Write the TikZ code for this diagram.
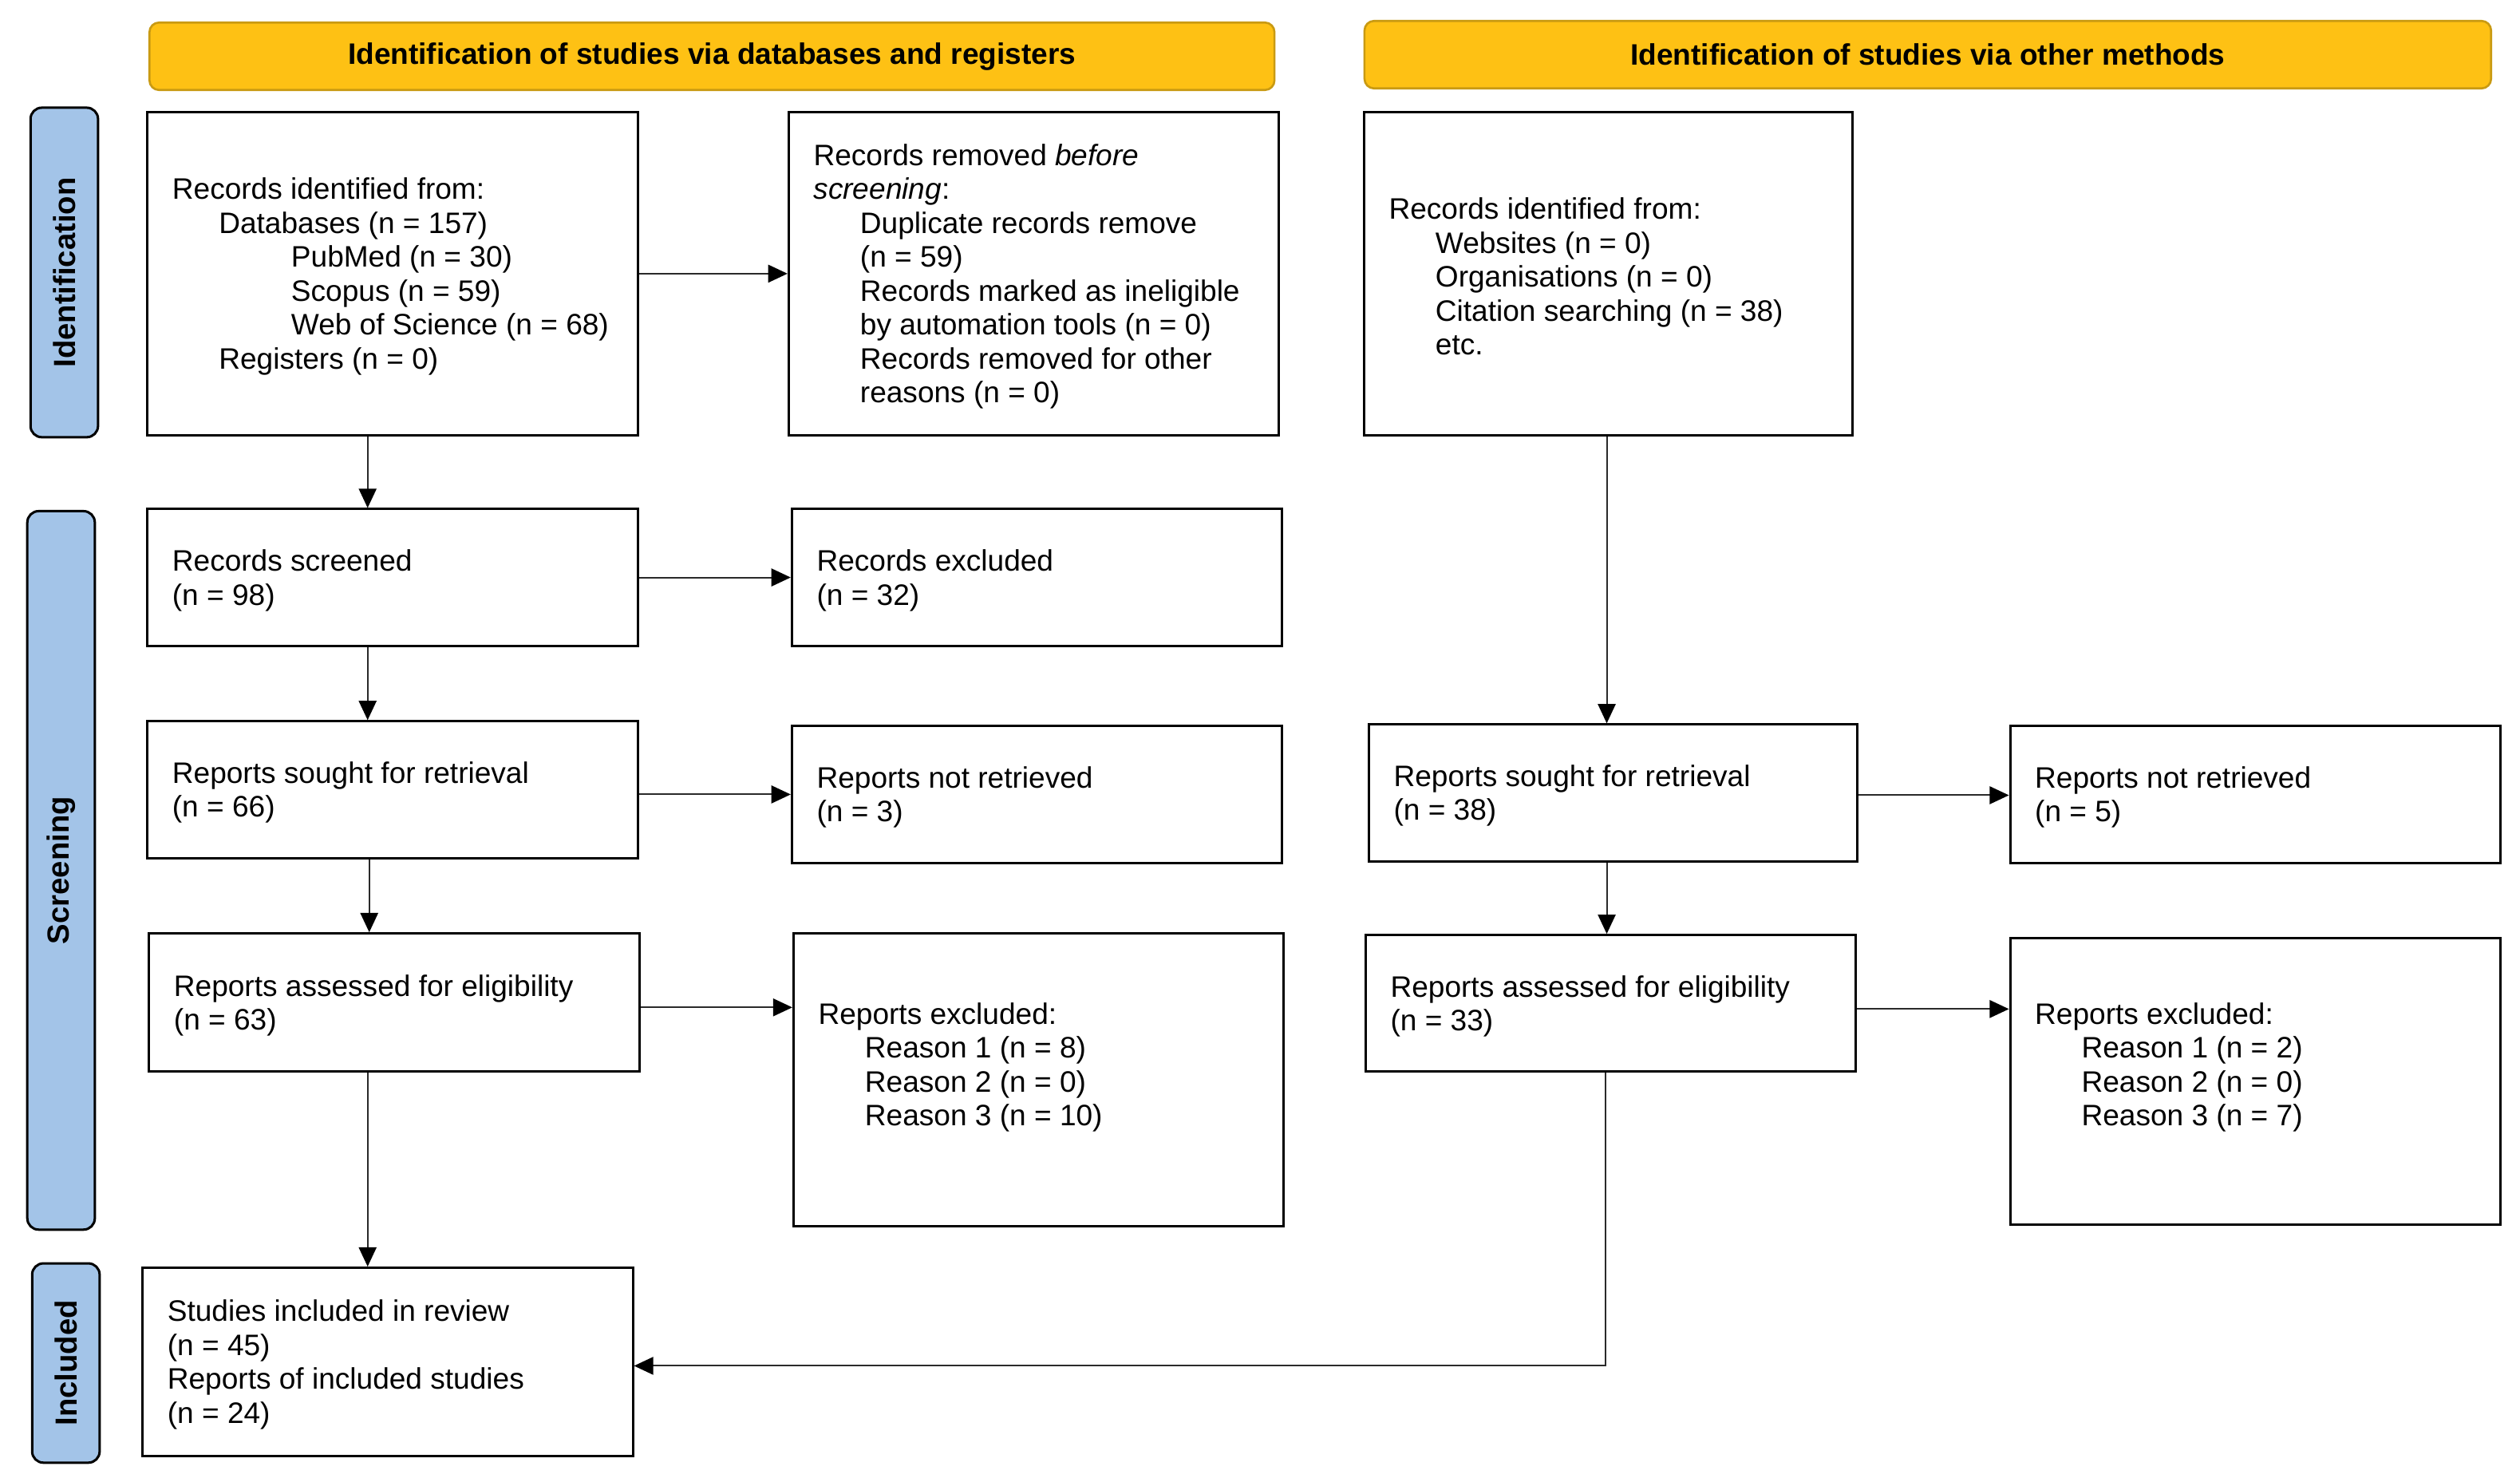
\documentclass[tikz,border=0pt]{standalone}
\usepackage{fontspec}
\setmainfont{Liberation Sans}
\usetikzlibrary{arrows.meta}
\definecolor{hdrfill}{HTML}{FEC114}
\definecolor{hdrdraw}{HTML}{C99A12}
\definecolor{sidefill}{HTML}{A3C4E8}
\definecolor{conn}{HTML}{2A2A2A}
\tikzset{
 box/.style={draw=black, line width=1.5pt, fill=white, inner sep=0pt},
 txt/.style={align=left, inner sep=0pt, font=\fontsize{18.4}{21.1}\selectfont},
 hdr/.style={draw=hdrdraw, fill=hdrfill, line width=1.3pt, rounded corners=6pt, inner sep=0pt, font=\fontsize{18.4}{21.1}\selectfont\bfseries},
 side/.style={draw=black, fill=sidefill, line width=1.5pt, rounded corners=7pt, inner sep=0pt, rotate=90, font=\fontsize{19}{22}\selectfont\bfseries},
 arr/.style={draw=conn, line width=1pt, -{Triangle[length=12pt,width=11pt,fill=black,color=black]}},
}
\newcommand{\prismabox}[7]{%
  \node[box, minimum width=#4pt, minimum height=#5pt, anchor=north west] (#1) at (#2,#3) {};
  \node[txt, anchor=west] (#1t) at ([xshift=16pt,yshift=#6pt-1.8pt]#1.west) {#7};
}
\newcommand{\ind}{\hspace*{29pt}}
\newcommand{\indd}{\hspace*{74pt}}
\begin{document}
\begin{tikzpicture}[x=1pt,y=-1pt]
\useasboundingbox (0,0) rectangle (1568,922);

% headers
\node[hdr, minimum width=700pt, minimum height=42pt] (h1) at (443,35) {Identification of studies via databases and registers};
\node[hdr, minimum width=701pt, minimum height=42pt] (h2) at (1199.5,34) {Identification of studies via other methods};

% side bars
\node[side, minimum width=205pt, minimum height=42pt] (s1) at (40,169.5) {Identification};
\node[side, minimum width=447pt, minimum height=42pt] (s2) at (38,541.5) {Screening};
\node[side, minimum width=124pt, minimum height=42pt] (s3) at (41,848) {Included};

% left column
\prismabox{b1}{91}{69}{305}{201}{0}{Records identified from:\\
\ind Databases (n = 157)\\
\indd PubMed (n = 30)\\
\indd Scopus (n = 59)\\
\indd Web of Science (n = 68)\\
\ind Registers (n = 0)}
\prismabox{b2}{91}{316}{305}{85}{0}{Records screened\\(n = 98)}
\prismabox{b3}{91}{448}{305}{85}{0}{Reports sought for retrieval\\(n = 66)}
\prismabox{b4}{92}{580}{305}{86}{0}{Reports assessed for eligibility\\(n = 63)}
\prismabox{b5}{88}{788}{305}{117}{0}{Studies included in review\\(n = 45)\\Reports of included studies\\(n = 24)}

% second column
\prismabox{r1}{490}{69}{305}{201}{0}{Records removed \textit{before}\\
\textit{screening}:\\
\ind Duplicate records remove\\
\ind (n = 59)\\
\ind Records marked as ineligible\\
\ind by automation tools (n = 0)\\
\ind Records removed for other\\
\ind reasons (n = 0)}
\prismabox{r2}{492}{316}{305}{85}{0}{Records excluded\\(n = 32)}
\prismabox{r3}{492}{451}{305}{85}{0}{Reports not retrieved\\(n = 3)}
\prismabox{r4}{493}{580}{305}{182}{9.5}{Reports excluded:\\
\ind Reason 1 (n = 8)\\
\ind Reason 2 (n = 0)\\
\ind Reason 3 (n = 10)}

% third column
\prismabox{o1}{848}{69}{304}{201}{0}{Records identified from:\\
\ind Websites (n = 0)\\
\ind Organisations (n = 0)\\
\ind Citation searching (n = 38)\\
\ind etc.}
\prismabox{o2}{851}{450}{304}{85}{0}{Reports sought for retrieval\\(n = 38)}
\prismabox{o3}{849}{581}{305}{85}{0}{Reports assessed for eligibility\\(n = 33)}

% fourth column
\prismabox{p1}{1250}{451}{305}{85}{0}{Reports not retrieved\\(n = 5)}
\prismabox{p2}{1250}{583}{305}{178}{10.5}{Reports excluded:\\
\ind Reason 1 (n = 2)\\
\ind Reason 2 (n = 0)\\
\ind Reason 3 (n = 7)}

% horizontal connectors
\draw[arr] (b1.east) -- (b1.east -| r1.west);
\draw[arr] (b2.east) -- (b2.east -| r2.west);
\draw[arr] (r3.west -| b3.east) -- (r3.west);
\draw[arr] ([yshift=-3pt]b4.east) -- ([yshift=-3pt]b4.east -| r4.west);
\draw[arr] ([yshift=-1.5pt]o2.east) -- ([yshift=-1.5pt]o2.east -| p1.west);
\draw[arr] ([yshift=-3.5pt]o3.east) -- ([yshift=-3.5pt]o3.east -| p2.west);

% vertical connectors
\draw[arr] ([xshift=-15.5pt]b1.south) -- ([xshift=-15.5pt]b1.south |- b2.north);
\draw[arr] ([xshift=-15.5pt]b2.south) -- ([xshift=-15.5pt]b2.south |- b3.north);
\draw[arr] ([xshift=-14.5pt]b3.south) -- ([xshift=-14.5pt]b3.south |- b4.north);
\draw[arr] ([xshift=-16.5pt]b4.south) -- ([xshift=-16.5pt]b4.south |- b5.north);
\draw[arr] ([xshift=-1pt]o1.south) -- ([xshift=-1pt]o1.south |- o2.north);
\draw[arr] ([xshift=-4pt]o2.south) -- ([xshift=-4pt]o2.south |- o3.north);
\draw[arr] ([xshift=-3.5pt]o3.south) |- ([yshift=-2.5pt]b5.east);
\end{tikzpicture}
\end{document}
